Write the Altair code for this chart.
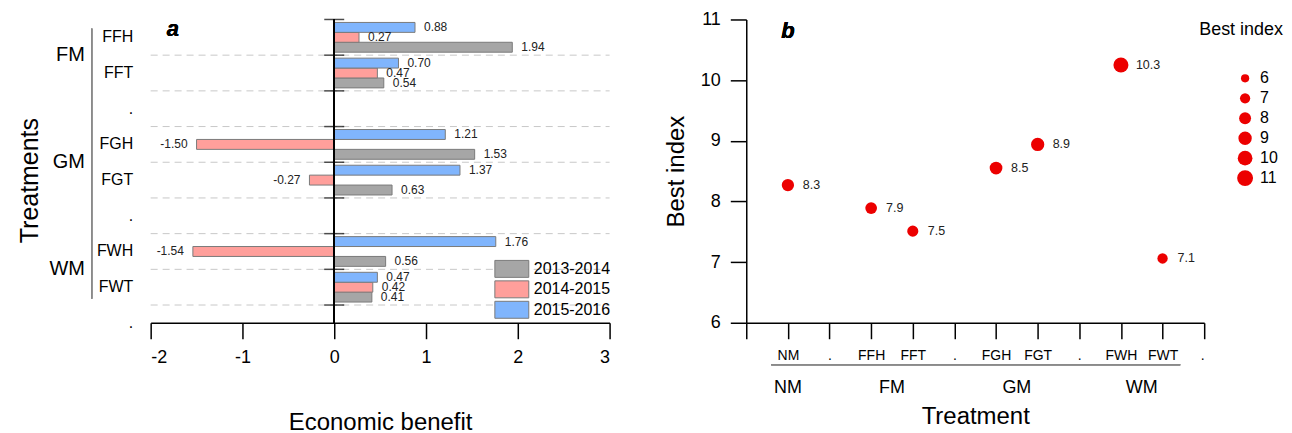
import altair as alt
import pandas as pd
import json

# ---------------- data: panel a ----------------
treatments_a = ["FFH", "FFT", "s1", "FGH", "FGT", "s2", "FWH", "FWT", "s3"]
tick_labels_a = ["FFH", "FFT", ".", "FGH", "FGT", ".", "FWH", "FWT", "."]
bar_treatments = ["FFH", "FFT", "FGH", "FGT", "FWH", "FWT"]
periods = ["2013-2014", "2014-2015", "2015-2016"]
benefit_2013_2014 = [1.94, 0.54, 1.53, 0.63, 0.56, 0.41]
benefit_2014_2015 = [0.27, 0.47, -1.50, -0.27, -1.54, 0.42]
benefit_2015_2016 = [0.88, 0.70, 1.21, 1.37, 1.76, 0.47]
groups_a = ["FM", "GM", "WM"]
group_anchor_a = ["FFT", "FGT", "FWT"]
x_ticks_a = [-2, -1, 0, 1, 2, 3]

# ---------------- data: panel b ----------------
treat_b = ["NM", "FFH", "FFT", "FGH", "FGT", "FWH", "FWT"]
treat_b_pos = [1, 3, 4, 6, 7, 9, 10]
best_index = [8.27, 7.89, 7.51, 8.55, 8.94, 10.25, 7.06]
best_labels = ["8.3", "7.9", "7.5", "8.5", "8.9", "10.3", "7.1"]
x_tick_labels_b = ["", "NM", ".", "FFH", "FFT", ".", "FGH", "FGT", ".", "FWH", "FWT", "."]
groups_b = ["NM", "FM", "GM", "WM"]
group_center_b = [1, 3.5, 6.5, 9.5]
size_legend_values = [6, 7, 8, 9, 10, 11]

FONT = "Liberation Sans"
W_A, H_A = 460, 322
W_B, H_B = 459, 304

# ---------------- tables ----------------
rows = []
for per, vals in zip(periods, [benefit_2013_2014, benefit_2014_2015, benefit_2015_2016]):
    for t, v in zip(bar_treatments, vals):
        rows.append({"treatment": t, "period": per, "value": v, "label": f"{v:.2f}"})
bars_df = pd.DataFrame(rows)
cats_df = pd.DataFrame({"treatment": treatments_a})
grid_df = pd.DataFrame({"treatment": treatments_a[1:]})
grp_a_df = pd.DataFrame({"group": groups_a, "treatment": group_anchor_a})

pts_df = pd.DataFrame({"treat": treat_b, "pos": treat_b_pos, "best": best_index, "label": best_labels})
grp_b_df = pd.DataFrame({"group": groups_b, "center": group_center_b})

ysc = alt.Scale(domain=treatments_a, paddingInner=0, paddingOuter=0)
xsc = alt.Scale(domain=[-2, 3], nice=False, zero=False)
period_order = list(reversed(periods))
yoff = alt.YOffset("period:N", sort=period_order,
                   scale=alt.Scale(domain=period_order, paddingInner=0, paddingOuter=0.3))
color_scale = alt.Scale(domain=periods, range=["#a6a6a6", "#ff9f9b", "#80b5fd"])

label_expr_a = f"{json.dumps(tick_labels_a)}[indexof({json.dumps(treatments_a)}, datum.value)]"

y_axis_a = alt.Axis(title="Treatments", labelExpr=label_expr_a, domain=False, ticks=False,
                    labelPadding=18, labelFontSize=16, titleFontSize=25, titlePadding=54)
x_axis_a = alt.Axis(title="Economic benefit", values=x_ticks_a, labelExpr="'' + datum.value",
                    tickSize=16, offset=-18, labelFontSize=18, labelPadding=10,
                    titleFontSize=24, titlePadding=44, grid=False)


def ya(band=None):
    if band is None:
        return alt.Y("treatment:N", scale=ysc, axis=y_axis_a)
    return alt.Y("treatment:N", scale=ysc, axis=y_axis_a, bandPosition=band)


def xa():
    return alt.X("value:Q", scale=xsc, axis=x_axis_a)


base_a = alt.Chart(bars_df)

bars = base_a.mark_bar(stroke="#7a7a7a", strokeWidth=1).encode(
    x=xa(), y=ya(), yOffset=yoff,
    color=alt.Color("period:N", scale=color_scale,
                    legend=alt.Legend(orient="none", legendX=345, legendY=241, title=None,
                                      symbolType="M-2,-1H2V1H-2Z", symbolSize=289,
                                      symbolStrokeColor="#7a7a7a", symbolStrokeWidth=1,
                                      labelFontSize=16, labelOffset=13, rowPadding=-1.5,
                                      symbolOffset=8, padding=0)),
)

pos_text = base_a.transform_filter("datum.value >= 0").mark_text(
    align="left", baseline="middle", dx=9, fontSize=12, font=FONT, color="#222"
).encode(x=xa(), y=ya(), yOffset=yoff, text="label:N")
neg_text = base_a.transform_filter("datum.value < 0").mark_text(
    align="right", baseline="middle", dx=-9, fontSize=12, font=FONT, color="#222"
).encode(x=xa(), y=ya(), yOffset=yoff, text="label:N")

grid = alt.Chart(grid_df).mark_rule(color="#c8c8c8", strokeDash=[7, 5], strokeWidth=1).encode(
    y=ya(0), x=alt.value(0), x2=alt.value(W_A))

zero_axis = alt.Chart(cats_df).mark_rule(color="black", strokeWidth=1.5).encode(
    x=alt.datum(0, scale=xsc, axis=x_axis_a), y=alt.value(0), y2=alt.value(H_A - 18))

zero_ticks = alt.Chart(cats_df).mark_tick(orient="horizontal", size=20, thickness=1.5, color="black").encode(
    x=alt.datum(0, scale=xsc, axis=x_axis_a), y=ya(0))

grp_text = alt.Chart(grp_a_df).mark_text(align="right", baseline="middle", fontSize=20, font=FONT, color="black").encode(
    x=alt.value(-66), y=ya(0), text="group:N")

grp_line = alt.Chart(grp_a_df).mark_rule(color="#8a8a8a", strokeWidth=1.5).encode(
    x=alt.value(-59), y=alt.value(9), y2=alt.value(280))

tag_a = alt.Chart(grp_a_df).mark_text(text="a", fontSize=22, fontStyle="italic", fontWeight="bold",
                                      font=FONT, align="left", baseline="middle", color="black").encode(
    x=alt.value(16), y=alt.value(10))

panel_a = alt.layer(bars, grid, pos_text, neg_text, zero_axis, zero_ticks, grp_text, grp_line, tag_a).properties(
    width=W_A, height=H_A)

# ---------------- panel b ----------------
bx = alt.Scale(domain=[0, 11], nice=False, zero=False)
by = alt.Scale(domain=[6, 11], nice=False, zero=False)
label_expr_b = f"{json.dumps(x_tick_labels_b)}[datum.value]"
x_axis_b = alt.Axis(title="Treatment", values=list(range(12)), labelExpr=label_expr_b,
                    tickSize=16, labelFontSize=14, labelPadding=10,
                    titleFontSize=24, titlePadding=42, grid=False)
y_axis_b = alt.Axis(title="Best index", values=size_legend_values, format="d", tickSize=16,
                    labelFontSize=18, labelPadding=10, titleFontSize=24, titlePadding=12, grid=False)

base_b = alt.Chart(pts_df)
points = base_b.mark_circle(color="#ec0000", opacity=1).encode(
    x=alt.X("pos:Q", scale=bx, axis=x_axis_b),
    y=alt.Y("best:Q", scale=by, axis=y_axis_b),
    size=alt.Size("best:Q", scale=alt.Scale(domain=[6, 11], range=[68, 254], zero=False),
                  legend=alt.Legend(orient="none", legendX=1051, legendY=2, title="Best index",
                                    values=size_legend_values, titleFontSize=18, titleFontWeight="normal",
                                    titlePadding=31, labelFontSize=16, labelOffset=7, symbolOffset=38,
                                    symbolFillColor="#ec0000", symbolStrokeWidth=0, rowPadding=4,
                                    padding=0)),
)
pt_text = base_b.mark_text(align="left", baseline="middle", dx=15, fontSize=12.5, font=FONT, color="#222").encode(
    x=alt.X("pos:Q", scale=bx, axis=x_axis_b), y=alt.Y("best:Q", scale=by, axis=y_axis_b), text="label:N")

underline = alt.Chart(grp_b_df).mark_rule(color="#8a8a8a", strokeWidth=1.5).encode(
    x=alt.value(25), x2=alt.value(435), y=alt.value(H_B + 42))
grp_b_text = alt.Chart(grp_b_df).mark_text(baseline="middle", align="center", fontSize=18, font=FONT, color="black").encode(
    x=alt.X("center:Q", scale=bx, axis=x_axis_b), y=alt.value(H_B + 65), text="group:N")
tag_b = alt.Chart(grp_b_df).mark_text(text="b", fontSize=22, fontStyle="italic", fontWeight="bold",
                                      font=FONT, align="left", baseline="middle", color="black").encode(
    x=alt.value(35), y=alt.value(12))

panel_b = alt.layer(points, pt_text, underline, grp_b_text, tag_b).properties(width=W_B, height=H_B)

chart = alt.hconcat(panel_a, panel_b, spacing=53).properties(
    padding={"left": 9, "top": 2, "right": 0, "bottom": 0}
).configure_view(stroke=None).configure_axis(
    domainColor="black", tickColor="black", labelColor="black", titleColor="black",
    domainWidth=1.5, tickWidth=1.5, labelFont=FONT, titleFont=FONT, titleFontWeight="normal"
).configure_legend(labelFont=FONT, titleFont=FONT, labelColor="black", titleColor="black"
).configure_text(font=FONT)

chart.save("out.html", embed_options={"renderer": "svg", "actions": False})
